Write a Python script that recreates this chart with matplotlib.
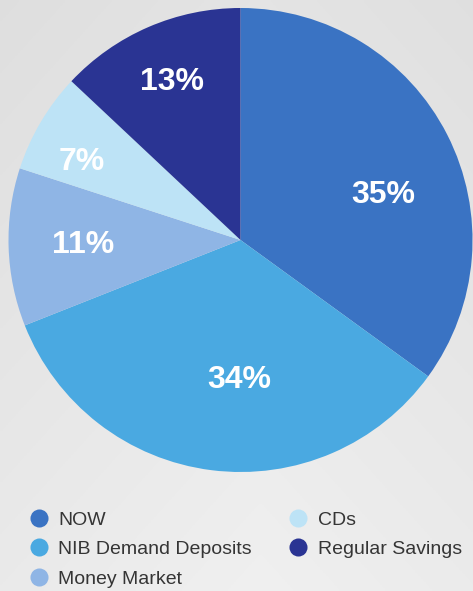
import numpy as np
import matplotlib
matplotlib.use('Agg')
import matplotlib.pyplot as plt
from matplotlib.lines import Line2D

labels = ['NOW', 'NIB Demand Deposits', 'Money Market', 'CDs', 'Regular Savings']
shares = [35, 34, 11, 7, 13]
colors = ['#3a73c3', '#4aa9e1', '#8fb5e5', '#bde3f6', '#2a3493']

# per-slice nudges for the percent labels (radius fraction, degrees)
label_r = [0.65, 0.585, 0.68, 0.77, 0.76]
label_shift = [-7.7, 6.8, -1.8, 3.0, -0.6]

plt.rcParams['font.family'] = ['Liberation Sans', 'DejaVu Sans']

W, H = 473, 591
fig = plt.figure(figsize=(W / 100, H / 100), dpi=100)

# soft gray backdrop
bg = fig.add_axes([0, 0, 1, 1])
yy, xx = np.mgrid[0:1:200j, 0:1:160j]
shade = 0.875 + 0.045 * yy + 0.02 * (1 - np.abs(xx - 0.55) * 2)
bg.imshow(np.dstack([shade] * 3), aspect='auto', extent=[0, 1, 0, 1], origin='upper')
bg.axis('off')

cx, cy, rad = 240.5, 240, 232
ax = fig.add_axes([(cx - rad) / W, (H - cy - rad) / H, 2 * rad / W, 2 * rad / H])
wedges, texts, autotexts = ax.pie(shares, colors=colors, startangle=90, counterclock=False,
                                  autopct='%d%%', pctdistance=0.65,
                                  wedgeprops=dict(linewidth=0),
                                  textprops=dict(color='white', fontsize=23, fontweight='bold'))
for w, t, r, s in zip(wedges, autotexts, label_r, label_shift):
    ang = np.deg2rad((w.theta1 + w.theta2) / 2 + s)
    t.set_position((r * np.cos(ang), r * np.sin(ang) - 0.02))
    t.set_ha('center')
    t.set_va('center')
ax.set_xlim(-1, 1)
ax.set_ylim(-1, 1)
ax.set_aspect('equal')
ax.axis('off')

handles = [Line2D([], [], marker='o', linestyle='none', markersize=13,
                  markerfacecolor=c, markeredgewidth=0) for c in colors]
leg = fig.legend(handles, labels,
                 ncol=2, loc='upper left', bbox_to_anchor=(29 / W, 1 - 511 / H),
                 frameon=False, fontsize=14.0, handletextpad=0.5, handlelength=1.0,
                 labelspacing=0.62, columnspacing=1.9, borderpad=0, borderaxespad=0)
for t in leg.get_texts():
    t.set_color('#353535')

fig.savefig('out.png', dpi=100)
